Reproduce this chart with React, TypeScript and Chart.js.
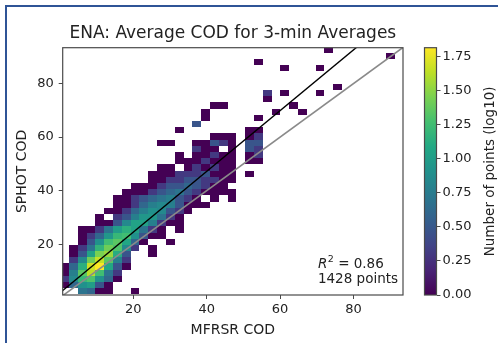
import React, { useEffect, useRef } from "react";
import { Chart, registerables } from "chart.js";

Chart.register(...registerables);

// ---------------- data ----------------
const chartTitle = "ENA: Average COD for 3-min Averages";
const xAxisLabel = "MFRSR COD";
const yAxisLabel = "SPHOT COD";
const colorbarLabel = "Number of points (log10)";

const xRange = [0.75, 93.5];
const yRange = [1.0, 93.4];
const xTicks = [20, 40, 60, 80];
const yTicks = [20, 40, 60, 80];
const cbTicks = [0, 0.25, 0.5, 0.75, 1.0, 1.25, 1.5, 1.75];

// 2D histogram bins (COD units)
const xBinStart = 0.08;
const xBinWidth = 2.4;
const yBinStart = 1.2;
const yBinWidth = 2.315;

// [row index, first column index, counts per column from that column]
const histRows: [number, number, number[]][] = [
  [0, 2, [5, 4, 1, 1, 0, 0, 1]],
  [1, 0, [1, 4, 8, 10, 3, 1]],
  [2, 0, [2, 7, 16, 20, 8, 4, 1]],
  [3, 0, [1, 6, 22, 42, 18, 5, 2]],
  [4, 0, [1, 4, 14, 48, 65, 12, 3, 1]],
  [5, 1, [2, 7, 26, 45, 22, 6, 2]],
  [6, 1, [1, 3, 11, 28, 34, 13, 3, 0, 0, 1]],
  [7, 1, [1, 2, 5, 15, 26, 20, 7, 2, 0, 1]],
  [8, 2, [1, 3, 8, 18, 22, 12, 4, 1, 0, 0, 1]],
  [9, 2, [1, 2, 4, 9, 16, 18, 8, 3, 1, 1]],
  [10, 2, [1, 1, 2, 5, 10, 14, 11, 5, 2, 1, 0, 1]],
  [11, 4, [1, 1, 3, 7, 11, 11, 6, 2, 1, 1]],
  [12, 4, [1, 0, 2, 3, 6, 9, 9, 5, 2, 1]],
  [13, 5, [1, 1, 2, 4, 6, 8, 7, 3, 2, 1]],
  [14, 6, [1, 1, 2, 4, 6, 7, 6, 3, 1, 1, 1]],
  [15, 6, [1, 1, 2, 3, 4, 5, 6, 3, 2, 1, 0, 1, 0, 1]],
  [16, 7, [1, 1, 1, 2, 3, 4, 5, 3, 2, 1, 1, 1, 1]],
  [17, 8, [1, 1, 1, 2, 3, 3, 4, 3, 2, 1, 1]],
  [18, 10, [1, 1, 2, 2, 3, 3, 2, 2, 1, 1]],
  [19, 10, [1, 1, 1, 2, 2, 2, 3, 1, 1, 1, 0, 1]],
  [20, 11, [1, 1, 0, 1, 2, 1, 2, 1, 1]],
  [21, 13, [1, 1, 1, 2, 1, 1, 1, 0, 1, 1]],
  [22, 13, [1, 0, 1, 1, 2, 1, 1, 0, 1, 2]],
  [23, 15, [2, 1, 1, 0, 1, 0, 3, 2]],
  [24, 11, [1, 1, 0, 0, 1, 1, 3, 2, 1, 0, 3, 3]],
  [25, 17, [1, 1, 1, 0, 1, 2]],
  [26, 13, [1]],
  [26, 21, [1, 1]],
  [27, 15, [3]],
  [28, 16, [1]],
  [28, 22, [1]],
  [29, 16, [1]],
  [29, 24, [1]],
  [29, 27, [1]],
  [30, 17, [1, 1]],
  [30, 26, [1]],
  [31, 23, [1]],
  [32, 23, [2]],
  [32, 25, [1]],
  [32, 29, [1]],
  [33, 31, [1]],
  [36, 25, [1]],
  [36, 29, [1]],
  [37, 22, [1]],
  [38, 37, [1]],
  [39, 30, [1]],
];

// regression line and 1:1 line end points
const fitLineX = [0, 95];
const fitLineY = [1.8, 109.6];
const oneToOneX = [0, 100];
const oneToOneY = [0, 100];

const r2Value = 0.86;
const nPoints = 1428;

// ---------------- style helpers ----------------
const FONT = "'DejaVu Sans', sans-serif";
const TEXT = "#222";
const SPINE = "#4a4a4a";

const viridisStops = [
  "#440154", "#482475", "#414487", "#355f8d", "#2a788e", "#21918c",
  "#22a884", "#44bf70", "#7ad151", "#bddf26", "#fde725",
];

function hexToRgb(h: string) {
  return [parseInt(h.slice(1, 3), 16), parseInt(h.slice(3, 5), 16), parseInt(h.slice(5, 7), 16)];
}

function viridis(t: number) {
  const c = Math.max(0, Math.min(1, t));
  const p = c * (viridisStops.length - 1);
  const i = Math.min(Math.floor(p), viridisStops.length - 2);
  const f = p - i;
  const a = hexToRgb(viridisStops[i]);
  const b = hexToRgb(viridisStops[i + 1]);
  const r = a.map((v, k) => Math.round(v + (b[k] - v) * f));
  return `rgb(${r[0]},${r[1]},${r[2]})`;
}

const maxCount = Math.max(...histRows.flatMap((r) => r[2]));
const maxLog = Math.log10(maxCount);

const CB_SHIFT = 33.5;
const CB_BAR_W = 12;

const heatmapPlugin = {
  id: "heatmap2d",
  afterLayout(chart: any) {
    const cb = chart.scales.cb;
    if (cb) {
      cb.left += CB_SHIFT;
      cb.right += CB_SHIFT;
    }
  },
  beforeDatasetsDraw(chart: any) {
    const { ctx, chartArea } = chart;
    const xs = chart.scales.x;
    const ys = chart.scales.y;
    ctx.save();
    ctx.beginPath();
    ctx.rect(chartArea.left, chartArea.top, chartArea.right - chartArea.left, chartArea.bottom - chartArea.top);
    ctx.clip();
    for (const [row, first, counts] of histRows) {
      counts.forEach((c, k) => {
        if (!c) return;
        const col = first + k;
        const x0 = Math.round(xs.getPixelForValue(xBinStart + col * xBinWidth));
        const x1 = Math.round(xs.getPixelForValue(xBinStart + (col + 1) * xBinWidth));
        const y0 = Math.round(ys.getPixelForValue(yBinStart + row * yBinWidth));
        const y1 = Math.round(ys.getPixelForValue(yBinStart + (row + 1) * yBinWidth));
        ctx.fillStyle = viridis(Math.log10(c) / maxLog);
        ctx.fillRect(x0, y1, x1 - x0, y0 - y1);
      });
    }
    ctx.restore();
  },
  afterDatasetsDraw(chart: any) {
    const { ctx, chartArea } = chart;
    ctx.save();
    ctx.strokeStyle = SPINE;
    ctx.lineWidth = 1.2;
    ctx.strokeRect(chartArea.left, chartArea.top, chartArea.right - chartArea.left, chartArea.bottom - chartArea.top);

    const ax = chartArea.left + 0.75 * (chartArea.right - chartArea.left);
    const base2 = chartArea.bottom - 12;
    const base1 = base2 - 15.5;
    ctx.fillStyle = TEXT;
    ctx.textAlign = "left";
    ctx.textBaseline = "alphabetic";
    ctx.font = `italic 13.5px ${FONT}`;
    ctx.fillText("R", ax, base1);
    let w = ctx.measureText("R").width + 0.5;
    ctx.font = `9.5px ${FONT}`;
    ctx.fillText("2", ax + w, base1 - 5.5);
    w += ctx.measureText("2").width;
    ctx.font = `13.5px ${FONT}`;
    ctx.fillText(" = " + r2Value.toFixed(2), ax + w, base1);
    ctx.fillText(`${nPoints} points`, ax, base2);
    ctx.restore();
  },
  afterDraw(chart: any) {
    const { ctx } = chart;
    const cb = chart.scales.cb;
    const top = cb.getPixelForValue(maxLog);
    const bottom = cb.getPixelForValue(0);
    const right = cb.left;
    const left = right - CB_BAR_W;
    ctx.save();
    const grad = ctx.createLinearGradient(0, bottom, 0, top);
    viridisStops.forEach((c, i) => grad.addColorStop(i / (viridisStops.length - 1), c));
    ctx.fillStyle = grad;
    ctx.fillRect(left, top, CB_BAR_W, bottom - top);
    ctx.strokeStyle = SPINE;
    ctx.lineWidth = 1.2;
    ctx.strokeRect(left, top, CB_BAR_W, bottom - top);

    ctx.translate(right + 53.5, (top + bottom) / 2);
    ctx.rotate(-Math.PI / 2);
    ctx.fillStyle = TEXT;
    ctx.font = `13.5px ${FONT}`;
    ctx.textAlign = "center";
    ctx.textBaseline = "middle";
    ctx.fillText(colorbarLabel, 0, 0);
    ctx.restore();
  },
};

export default function App() {
  const ref = useRef<HTMLCanvasElement>(null);

  useEffect(() => {
    const canvas = ref.current;
    if (!canvas) return;
    const tickFont = { family: FONT, size: 13 };
    const chart = new Chart(canvas, {
      type: "scatter",
      data: {
        datasets: [
          {
            label: "fit",
            data: fitLineX.map((x, i) => ({ x, y: fitLineY[i] })),
            showLine: true,
            borderColor: "#000000",
            borderWidth: 1.4,
            pointRadius: 0,
            xAxisID: "x",
            yAxisID: "y",
          },
          {
            label: "1:1",
            data: oneToOneX.map((x, i) => ({ x, y: oneToOneY[i] })),
            showLine: true,
            borderColor: "#8a8a8a",
            borderWidth: 1.6,
            pointRadius: 0,
            xAxisID: "x",
            yAxisID: "y",
          },
        ],
      },
      options: {
        responsive: false,
        animation: false,
        events: [],
        layout: { padding: 0 },
        plugins: {
          legend: { display: false },
          tooltip: { enabled: false },
          title: {
            display: true,
            text: chartTitle,
            fullSize: false,
            color: TEXT,
            font: { family: FONT, size: 17, weight: "normal" },
            padding: { top: 23, bottom: 4.3 },
          },
        },
        scales: {
          x: {
            type: "linear",
            position: "bottom",
            min: xRange[0],
            max: xRange[1],
            afterBuildTicks: (s: any) => {
              s.ticks = xTicks.map((v) => ({ value: v }));
            },
            afterFit: (s: any) => {
              s.height = 48;
            },
            grid: { drawOnChartArea: false, drawTicks: true, tickLength: 4, color: SPINE, lineWidth: 1 },
            border: { display: false },
            ticks: { font: tickFont, color: TEXT, padding: 3, maxRotation: 0 },
            title: {
              display: true,
              text: xAxisLabel,
              color: TEXT,
              font: { family: FONT, size: 14 },
              padding: { top: 0, bottom: 4.6 },
            },
          },
          y: {
            type: "linear",
            position: "left",
            min: yRange[0],
            max: yRange[1],
            afterBuildTicks: (s: any) => {
              s.ticks = yTicks.map((v) => ({ value: v }));
            },
            afterFit: (s: any) => {
              s.width = 62.7;
            },
            grid: { drawOnChartArea: false, drawTicks: true, tickLength: 4, color: SPINE, lineWidth: 1 },
            border: { display: false },
            ticks: { font: tickFont, color: TEXT, padding: 5 },
            title: {
              display: true,
              text: yAxisLabel,
              color: TEXT,
              font: { family: FONT, size: 14 },
              padding: { top: 13.6, bottom: 0 },
            },
          },
          cb: {
            type: "linear",
            position: "right",
            min: 0,
            max: maxLog,
            afterBuildTicks: (s: any) => {
              s.ticks = cbTicks.map((v) => ({ value: v }));
            },
            afterFit: (s: any) => {
              s.width = 95;
            },
            grid: { drawOnChartArea: false, drawTicks: true, tickLength: 4, color: SPINE, lineWidth: 1 },
            border: { display: false },
            ticks: {
              font: tickFont,
              color: TEXT,
              padding: 2,
              callback: (v: any) => Number(v).toFixed(2),
            },
          },
        },
      } as any,
      plugins: [heatmapPlugin],
    });
    return () => chart.destroy();
  }, []);

  return (
    <div
      style={{
        position: "fixed",
        left: 0,
        top: 0,
        width: 498,
        height: 343,
        overflow: "hidden",
        background: "#ffffff",
      }}
    >
      <div
        style={{
          position: "absolute",
          left: 5,
          top: 5,
          width: 2000,
          height: 2000,
          border: "2px solid #2f5496",
        }}
      />
      <canvas
        ref={ref}
        width={498}
        height={343}
        style={{ position: "absolute", left: 0, top: 0, width: 498, height: 343 }}
      />
    </div>
  );
}
